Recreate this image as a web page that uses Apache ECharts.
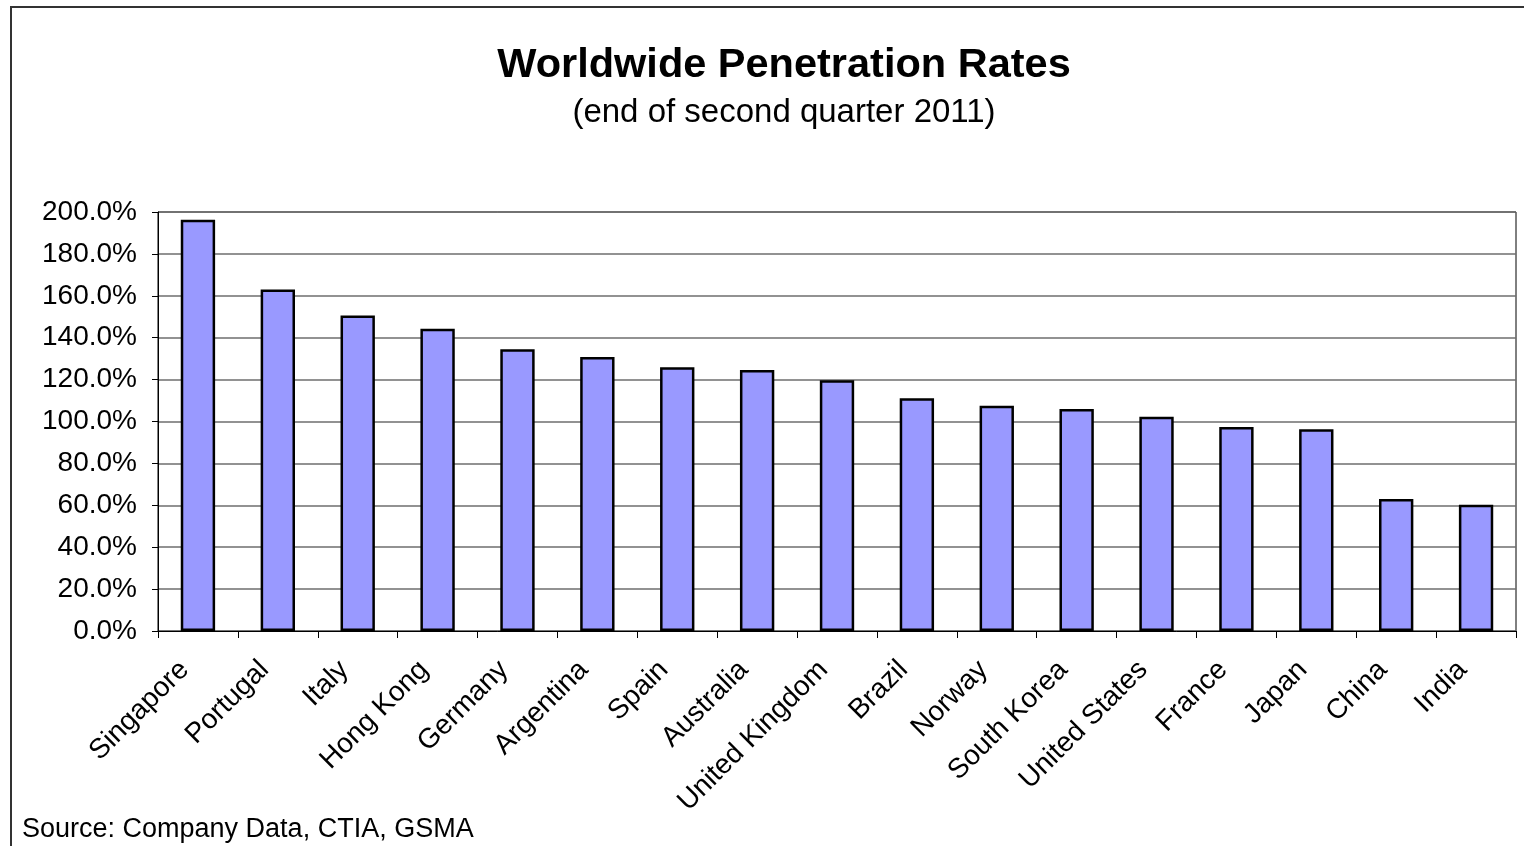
<!DOCTYPE html>
<html>
<head>
<meta charset="utf-8">
<script src="https://cdn.jsdelivr.net/npm/echarts@6/dist/echarts.min.js"></script>
<style>
  html, body { margin: 0; padding: 0; background: #fff; }
  #chart { width: 1524px; height: 846px; }
</style>
</head>
<body>
<div id="chart"></div>
<script>
// countries, sorted as in the picture
const countries = ['Singapore', 'Portugal', 'Italy', 'Hong Kong', 'Germany', 'Argentina', 'Spain',
  'Australia', 'United Kingdom', 'Brazil', 'Norway', 'South Korea', 'United States', 'France',
  'Japan', 'China', 'India']
// penetration rate, percent
const rates = [196.3, 163.0, 150.6, 144.3, 134.5, 130.8, 125.9, 124.6, 119.7, 111.1, 107.5,
  106.0, 102.3, 97.4, 96.3, 63.0, 60.3]

const font = 'Liberation Sans, Arial, sans-serif'
const chart = echarts.init(document.getElementById('chart'))
chart.setOption({
  backgroundColor: '#fff',
  animation: false,
  title: [
    {
      text: 'Worldwide Penetration Rates',
      left: 779,
      top: 40,
      textAlign: 'center',
      textStyle: { fontFamily: font, fontSize: 41.5, fontWeight: 'bold', color: '#000' }
    },
    {
      text: '(end of second quarter 2011)',
      left: 779,
      top: 91,
      textAlign: 'center',
      textStyle: { fontFamily: font, fontSize: 33, fontWeight: 'normal', color: '#000' }
    },
    {
      text: 'Source: Company Data, CTIA, GSMA',
      left: 17,
      top: 811,
      textStyle: { fontFamily: font, fontSize: 27, fontWeight: 'normal', color: '#000' }
    }
  ],
  graphic: [
    {
      type: 'rect',
      shape: { x: 11, y: 7, width: 1540, height: 900 },
      style: { fill: 'none', stroke: '#333', lineWidth: 2 },
      silent: true
    }
  ],
  grid: {
    left: 158,
    top: 212,
    right: 8,
    bottom: 215,
    show: true,
    borderColor: '#000',
    borderWidth: 1
  },
  xAxis: {
    type: 'category',
    data: countries,
    boundaryGap: true,
    axisLine: { lineStyle: { color: '#000', width: 1 } },
    axisTick: { show: true, length: 7, alignWithLabel: false, lineStyle: { color: '#000' } },
    axisLabel: {
      rotate: 45,
      interval: 0,
      margin: 21,
      padding: [0, 19, 0, 0],
      fontFamily: font,
      fontSize: 28,
      color: '#000'
    }
  },
  yAxis: {
    type: 'value',
    min: 0,
    max: 200,
    interval: 20,
    axisLine: { show: true, lineStyle: { color: '#000', width: 1 } },
    axisTick: { show: true, length: 6, lineStyle: { color: '#000' } },
    splitLine: { lineStyle: { color: '#6e6e6e', width: 1.5 } },
    axisLabel: {
      margin: 21,
      fontFamily: font,
      fontSize: 28,
      color: '#000',
      formatter: v => v.toFixed(1) + '%'
    }
  },
  series: [
    {
      type: 'bar',
      data: rates,
      barWidth: '43%',
      itemStyle: { color: '#9999ff', borderColor: '#000', borderWidth: 2.5 }
    }
  ]
})
</script>
</body>
</html>
